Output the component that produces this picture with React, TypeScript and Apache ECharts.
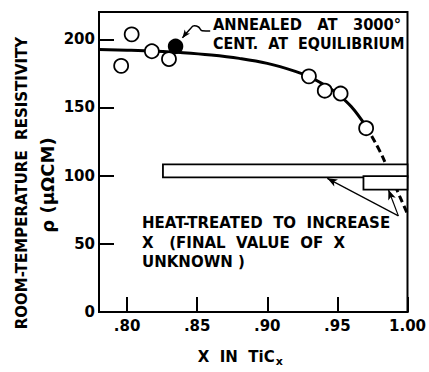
import React, { useEffect, useRef } from "react";
import * as echarts from "echarts";

const FONT = "DejaVu Sans";

const xTicks = [0.8, 0.85, 0.9, 0.95, 1.0];
const yTicks = [0, 50, 100, 150, 200];

// open circles: [x, rho]
const openPoints = [
  [0.7958, 180.5],
  [0.8033, 203.6],
  [0.8177, 191.2],
  [0.8299, 185.5],
  [0.9297, 172.8],
  [0.941, 162.3],
  [0.9523, 160.2],
  [0.9705, 134.8],
];
// filled circle: annealed at 3000 C
const annealedPoint = [[0.8346, 194.8]];

// fitted curve (solid part) and extrapolation (dashed)
const fitSolid = [
  [0.78, 192.5], [0.8, 192], [0.82, 191.3], [0.84, 190.2], [0.86, 188.5],
  [0.88, 186], [0.9, 182.3], [0.92, 176.5], [0.93, 172.5], [0.94, 167],
  [0.95, 160], [0.96, 150.5], [0.9705, 136],
];
const fitDashed = [
  [0.9705, 136], [0.975, 128], [0.98, 118.5], [0.985, 107.5],
  [0.99, 95.5], [0.995, 83.5], [1.0, 72],
];

// heat-treated ranges: [xStart, rhoLow, xEnd, rhoHigh]
const heatRanges = [
  [0.8256, 98.7, 1.0, 108.2],
  [0.9686, 89.7, 1.0, 99.6],
];

// leader from the annotation to the filled point
const leader = [
  [0.8406, 202.2], [0.845, 207.5], [0.848, 210], [0.851, 209],
  [0.8535, 206.3], [0.8593, 206],
];
// arrows from the "heat-treated" note to the bars
const arrowStart = [0.9935, 70.5];
const arrowEnds = [
  [0.9428, 98.0],
  [0.9864, 89.6],
];

export default function App() {
  const ref = useRef<HTMLDivElement>(null);
  useEffect(() => {
    const chart = echarts.init(ref.current!, null, { renderer: "svg" });
    const note = (t: string, x: number, y: number, sx = 1) => ({
      type: "text",
      x,
      y,
      scaleX: sx,
      style: {
        text: t,
        fill: "#000",
        font: `bold 15px "${FONT}"`,
        textAlign: "left",
        textVerticalAlign: "middle",
      },
    });
    chart.setOption({
      animation: false,
      backgroundColor: "#fff",
      grid: {
        left: 99,
        right: 17,
        top: 12,
        bottom: 52,
        show: true,
        borderColor: "#000",
        borderWidth: 2,
        backgroundColor: "transparent",
      },
      xAxis: {
        type: "value",
        min: 0.78,
        max: 1.0,
        axisLine: { show: true, lineStyle: { color: "#000", width: 2 } },
        axisTick: {
          show: true,
          inside: true,
          length: 15,
          customValues: xTicks,
          lineStyle: { color: "#000", width: 2 },
        },
        axisLabel: {
          customValues: xTicks,
          color: "#000",
          fontFamily: FONT,
          fontWeight: "bold",
          fontSize: 15,
          margin: 6,
          formatter: (v: number) =>
            v >= 0.999 ? "1.00" : "." + Math.round(v * 100).toString(),
        },
        splitLine: { show: false },
        name: "X  IN  TiC{sub|x}",
        nameLocation: "middle",
        nameGap: 35,
        nameTextStyle: {
          color: "#000",
          fontFamily: FONT,
          fontWeight: "bold",
          fontSize: 15,
          padding: [0, 26, 0, 0],
          rich: {
            sub: {
              fontFamily: FONT,
              fontWeight: "bold",
              fontSize: 11,
              color: "#000",
              padding: [9, 0, 0, 1],
            },
          },
        },
      },
      yAxis: {
        type: "value",
        min: 0,
        max: 220,
        axisLine: { show: true, lineStyle: { color: "#000", width: 2 } },
        axisTick: {
          show: true,
          inside: true,
          length: 15,
          customValues: yTicks,
          lineStyle: { color: "#000", width: 2 },
        },
        axisLabel: {
          customValues: yTicks,
          color: "#000",
          fontFamily: FONT,
          fontWeight: "bold",
          fontSize: 15,
          margin: 4,
        },
        splitLine: { show: false },
      },
      graphic: [
        note("ANNEALED   AT   3000°", 213, 25, 0.98),
        note("CENT.  AT  EQUILIBRIUM", 213, 43, 0.955),
        note("HEAT-TREATED  TO  INCREASE", 142, 223, 1.0),
        note("X   (FINAL  VALUE  OF  X", 142, 243, 1.0),
        note("UNKNOWN )", 142, 262, 1.0),
        {
          type: "text",
          x: 22,
          y: 183,
          rotation: Math.PI / 2,
          style: {
            text: "ROOM-TEMPERATURE  RESISTIVITY",
            fill: "#000",
            font: `bold 15px "${FONT}"`,
            textAlign: "center",
            textVerticalAlign: "middle",
          },
        },
        {
          type: "text",
          x: 47,
          y: 185,
          rotation: Math.PI / 2,
          style: {
            text: "ρ (μΩCM)",
            fill: "#000",
            font: `bold 18px "${FONT}"`,
            textAlign: "center",
            textVerticalAlign: "middle",
          },
        },
      ],
      series: [
        {
          type: "line",
          data: fitSolid,
          smooth: 0.4,
          showSymbol: false,
          symbol: "none",
          lineStyle: { color: "#000", width: 3 },
          z: 2,
        },
        {
          type: "line",
          data: fitDashed,
          smooth: 0.4,
          showSymbol: false,
          symbol: "none",
          lineStyle: { color: "#000", width: 3, type: [7, 4] },
          z: 2,
        },
        {
          type: "custom",
          data: heatRanges,
          z: 6,
          renderItem: (params: any, api: any) => {
            const p0 = api.coord([api.value(0), api.value(3)]);
            const p1 = api.coord([api.value(2), api.value(1)]);
            return {
              type: "rect",
              shape: { x: p0[0], y: p0[1], width: p1[0] - p0[0], height: p1[1] - p0[1] },
              style: { fill: "#fff", stroke: "#000", lineWidth: 1.8 },
            };
          },
          markLine: {
            silent: true,
            symbol: ["none", "arrow"],
            symbolSize: [6, 10],
            label: { show: false },
            lineStyle: { color: "#000", width: 1.2, type: "solid" },
            data: arrowEnds.map((e) => [
              { coord: arrowStart, symbol: "none" },
              { coord: e },
            ]),
          },
        },
        {
          type: "line",
          data: leader,
          smooth: 0.5,
          symbol: "none",
          lineStyle: { color: "#000", width: 1.5 },
          z: 4,
          markLine: {
            silent: true,
            symbol: ["none", "arrow"],
            symbolSize: [5, 8],
            label: { show: false },
            lineStyle: { color: "#000", width: 1.5, type: "solid" },
            data: [[{ coord: [0.8425, 205] }, { coord: [0.8395, 201] }]],
          },
        },
        {
          type: "scatter",
          data: openPoints,
          symbol: "circle",
          symbolSize: 14,
          itemStyle: { color: "#fff", borderColor: "#000", borderWidth: 1.8, opacity: 1 },
          z: 5,
        },
        {
          type: "scatter",
          data: annealedPoint,
          symbol: "circle",
          symbolSize: 14,
          itemStyle: { color: "#000", borderColor: "#000", borderWidth: 1.5, opacity: 1 },
          z: 5,
        },
      ],
    });
    return () => chart.dispose();
  }, []);
  return (
    <div
      ref={ref}
      style={{ position: "fixed", left: 0, top: 0, width: 429, height: 372, background: "#fff" }}
    />
  );
}
